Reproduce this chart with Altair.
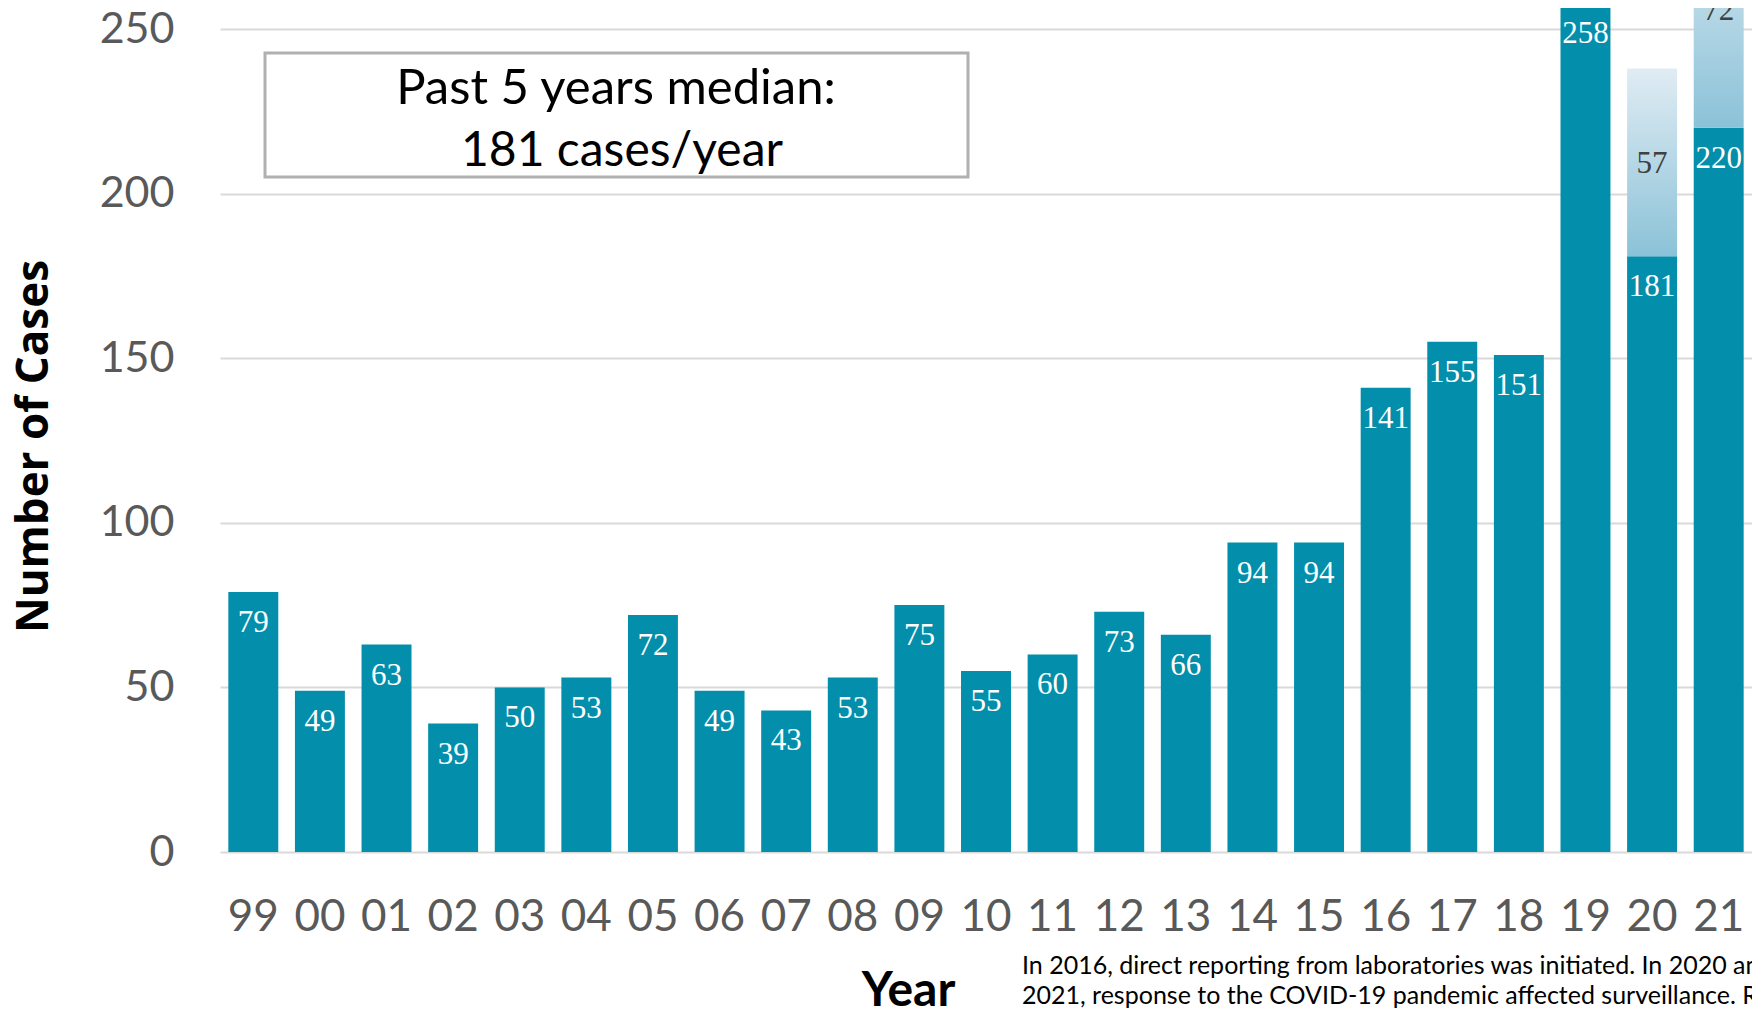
import altair as alt
import pandas as pd

# ---- data ----
years = ["99", "00", "01", "02", "03", "04", "05", "06", "07", "08", "09", "10",
         "11", "12", "13", "14", "15", "16", "17", "18", "19", "20", "21"]
cases = [79, 49, 63, 39, 50, 53, 72, 49, 43, 53, 75, 55, 60, 73, 66, 94, 94,
         141, 155, 151, 258, 181, 220]
extra_years = ["20", "21"]
extra_cases = [57, 72]
y_ticks = [0, 50, 100, 150, 200, 250]
box_lines = ["Past 5 years median:", "181 cases/year"]
footnote_lines = [
    "In 2016, direct reporting from laboratories was initiated. In 2020 and",
    "2021, response to the COVID-19 pandemic affected surveillance. Reported",
]

df = pd.DataFrame({"year": years, "cases": cases})
base_map = dict(zip(years, cases))
df_extra = pd.DataFrame({
    "year": extra_years,
    "cases": [base_map[y] for y in extra_years],
    "extra": extra_cases,
})
df_extra["top"] = df_extra["cases"] + df_extra["extra"]
df_extra["mid"] = df_extra["cases"] + df_extra["extra"] / 2

DARK = "#038fab"
LABEL_FONT = "Lato"

xscale = alt.Scale(paddingInner=0.25, paddingOuter=0.125)
xaxis = alt.Axis(title="Year", labelFont=LABEL_FONT, labelFontSize=44,
                 labelColor="#595959", labelPadding=43, labelAngle=0,
                 ticks=False, domain=False,
                 titleFont=LABEL_FONT, titleFontWeight="bold", titleFontSize=48,
                 titleColor="black", titleX=688, titleY=153,
                 titleAlign="center", titleBaseline="alphabetic")
yscale = alt.Scale(domain=[0, 256.4], nice=False, zero=True)
yaxis = alt.Axis(values=y_ticks, grid=True, gridColor="#d9d9d9", gridWidth=2,
                 ticks=False, domain=False, labelFont=LABEL_FONT,
                 labelFontSize=43, labelColor="#595959", labelPadding=46,
                 title="Number of Cases", titleFont="Open Sans",
                 titleFontWeight="bold", titleFontSize=44, titleColor="black",
                 titleX=-186, titleY=438, titleAngle=270, titleAlign="center",
                 titleBaseline="middle")

X = alt.X("year:N", sort=years, scale=xscale, axis=xaxis)

bars = alt.Chart(df).mark_bar(color=DARK, clip=True).encode(
    x=X,
    y=alt.Y("cases:Q", scale=yscale, axis=yaxis),
)

grad = alt.Gradient(
    gradient="linear",
    stops=[alt.GradientStop(color="#e0ecf3", offset=0),
           alt.GradientStop(color="#8bc2d8", offset=1)],
    x1=0, x2=0, y1=0, y2=1,
)
light = alt.Chart(df_extra).mark_bar(color=grad, clip=True).encode(
    x=X,
    y=alt.Y("top:Q", scale=yscale, axis=yaxis),
    y2="cases:Q",
)

bar_labels = alt.Chart(df).mark_text(
    font="Liberation Serif", fontSize=31, color="white",
    baseline="alphabetic", dy=40,
).encode(
    x=X,
    y=alt.Y("cases:Q", scale=yscale, axis=yaxis),
    text="cases:Q",
)

light_labels = alt.Chart(df_extra).mark_text(
    font="Liberation Serif", fontSize=31, color="#404040",
    baseline="middle", dy=2,
).encode(
    x=X,
    y=alt.Y("mid:Q", scale=yscale, axis=yaxis),
    text="extra:Q",
)

box = alt.Chart(pd.DataFrame({"k": [0]})).mark_rect(
    fill="white", stroke="#b0b0b0", strokeWidth=3,
).encode(
    x=alt.value(45), x2=alt.value(748), y=alt.value(45), y2=alt.value(169),
)

box_text1 = alt.Chart(pd.DataFrame({"t": [box_lines[0]]})).mark_text(
    font=LABEL_FONT, fontSize=49, color="black", align="center", baseline="middle",
).encode(text="t:N", x=alt.value(396), y=alt.value(81))
box_text2 = alt.Chart(pd.DataFrame({"t": [box_lines[1]]})).mark_text(
    font=LABEL_FONT, fontSize=48, color="black", align="center", baseline="middle",
).encode(text="t:N", x=alt.value(402), y=alt.value(144))

foot1 = alt.Chart(pd.DataFrame({"t": [footnote_lines[0]]})).mark_text(
    font=LABEL_FONT, fontSize=25, color="black", align="left", baseline="alphabetic",
).encode(text="t:N", x=alt.value(802), y=alt.value(966))
foot2 = alt.Chart(pd.DataFrame({"t": [footnote_lines[1]]})).mark_text(
    font=LABEL_FONT, fontSize=25, color="black", align="left", baseline="alphabetic",
).encode(text="t:N", x=alt.value(802), y=alt.value(996))

chart = alt.layer(
    bars, light, bar_labels, light_labels, box, box_text1, box_text2, foot1, foot2
).properties(
    width=1532, height=844,
    padding={"left": 212, "top": 0, "right": 0, "bottom": 158},
    autosize=alt.AutoSizeParams(type="none"),
).configure_view(stroke=None)

chart.save("out.html", embed_options={"renderer": "svg", "actions": False})
